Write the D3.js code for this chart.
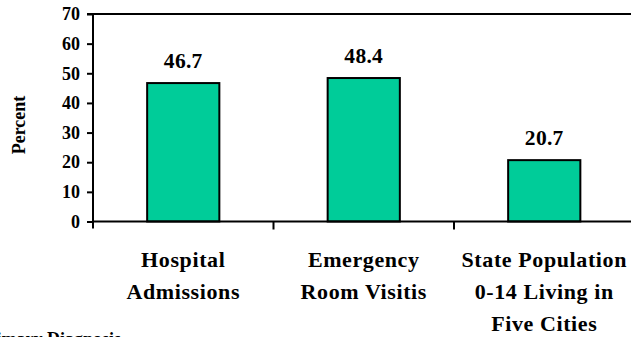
<!DOCTYPE html>
<html>
<head>
<meta charset="utf-8">
<script src="https://cdn.jsdelivr.net/npm/d3@7"></script>
<style>
  html, body { margin: 0; padding: 0; background: #fff; }
  svg { display: block; }
</style>
</head>
<body>
<div id="chart"></div>
<script>
// Data
const categories = [
  ["Hospital", "Admissions"],
  ["Emergency", "Room Visitis"],
  ["State Population", "0-14 Living in", "Five Cities"]
];
const values = [46.7, 48.4, 20.7];
const yTicks = [0, 10, 20, 30, 40, 50, 60, 70];
const yTitle = "Percent";
const footnote = "*Primary Diagnosis";

const width = 631, height = 337;
const plotLeft = 93, plotRight = 634.5, plotTop = 14, plotBottom = 221.5;
const FONT = '"Liberation Serif", "Times New Roman", serif';

const svg = d3.select("#chart").append("svg")
  .attr("width", width).attr("height", height);

const serif = sel => sel.style("font-family", FONT).style("font-weight", "bold").style("fill", "#000");

const keys = categories.map((c, i) => i);
const x = d3.scaleBand().domain(keys).range([plotLeft, plotRight])
  .paddingInner(0.6).paddingOuter(0.3);
const xOuter = d3.scaleBand().domain(keys).range([plotLeft, plotRight]).padding(0);
const y = d3.scaleLinear().domain([0, 70]).range([plotBottom, plotTop]);

// Bars
svg.append("g").selectAll("rect").data(values).join("rect")
  .attr("x", (d, i) => x(i))
  .attr("y", d => y(d))
  .attr("width", x.bandwidth())
  .attr("height", d => y(0) - y(d))
  .attr("fill", "#00CC99")
  .attr("stroke", "#000")
  .attr("stroke-width", 2);

// Value labels
svg.append("g").selectAll("text").data(values).join("text")
  .attr("x", (d, i) => x(i) + x.bandwidth() / 2)
  .attr("y", d => y(d) - 15)
  .attr("text-anchor", "middle")
  .style("font-size", "21.5px")
  .style("letter-spacing", "0.3px")
  .call(serif)
  .text(d => d.toFixed(1));

// Y axis
const yAxis = d3.axisLeft(y).tickValues(yTicks).tickSize(6).tickPadding(7);
const gy = svg.append("g").attr("transform", `translate(${plotLeft},0)`).call(yAxis);
gy.select(".domain").remove();
gy.selectAll(".tick line").attr("stroke", "#000").attr("stroke-width", 2);
gy.selectAll(".tick text")
  .style("font-size", "18px")
  .call(serif);

// Axis lines and plot top border
svg.append("line")
  .attr("x1", plotLeft).attr("x2", plotLeft)
  .attr("y1", plotTop).attr("y2", plotBottom + 7)
  .attr("stroke", "#000").attr("stroke-width", 2);
svg.append("line")
  .attr("x1", plotLeft).attr("x2", plotRight)
  .attr("y1", y(0)).attr("y2", y(0))
  .attr("stroke", "#000").attr("stroke-width", 2);
svg.append("line")
  .attr("x1", plotLeft - 6).attr("x2", plotRight)
  .attr("y1", y(70)).attr("y2", y(70))
  .attr("stroke", "#000").attr("stroke-width", 2);

// Category separators on the x axis
svg.append("g").selectAll("line").data(keys.slice(1)).join("line")
  .attr("x1", d => xOuter(d)).attr("x2", d => xOuter(d))
  .attr("y1", plotBottom).attr("y2", plotBottom + 8)
  .attr("stroke", "#000").attr("stroke-width", 2);

// Category labels
const catG = svg.append("g").selectAll("text").data(categories).join("text")
  .attr("text-anchor", "middle")
  .style("font-size", "22px")
  .style("letter-spacing", "0.6px")
  .call(serif)
  .attr("x", (d, i) => xOuter(i) + xOuter.bandwidth() / 2)
  .attr("y", 267);
catG.selectAll("tspan").data(d => d).join("tspan")
  .attr("x", function () { return this.parentNode.getAttribute("x"); })
  .attr("dy", (d, j) => j === 0 ? 0 : 32)
  .text(d => d);

// Y title
svg.append("text")
  .attr("transform", "translate(25,125) rotate(-90)")
  .attr("text-anchor", "middle")
  .style("font-size", "18px")
  .call(serif)
  .text(yTitle);

// Footnote
svg.append("text")
  .attr("x", 121).attr("y", 345)
  .attr("text-anchor", "end")
  .style("font-size", "18px")
  .call(serif)
  .text(footnote);
</script>
</body>
</html>
